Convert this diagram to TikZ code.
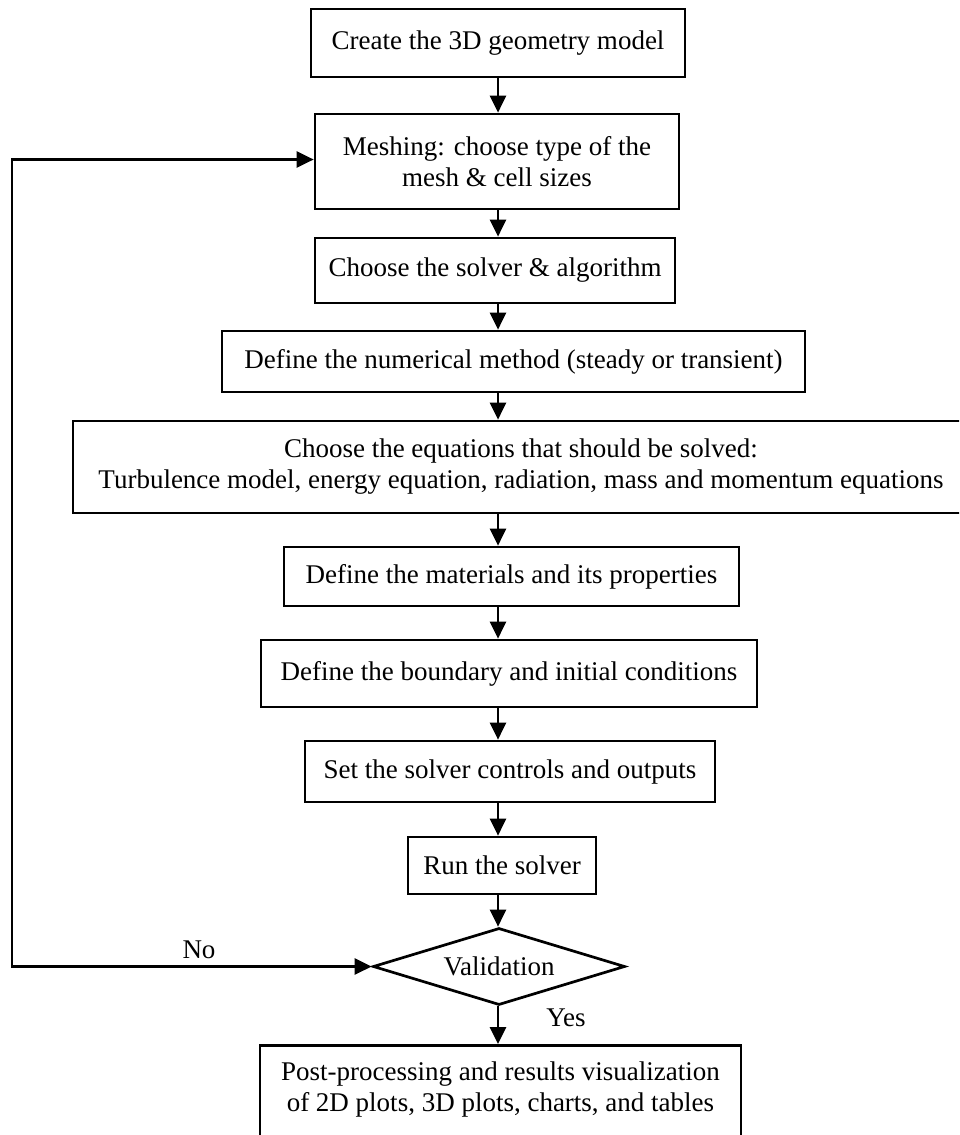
\documentclass[tikz,border=0pt]{standalone}
\usepackage{fontspec}
\setmainfont{Liberation Serif}
\usetikzlibrary{shapes.geometric,arrows.meta}
\begin{document}
\begin{tikzpicture}[x=1pt,y=-1pt,
  lw/.style={line width=2.7pt},
  box/.style={draw, lw, rectangle, inner sep=0pt, align=center, font=\fontsize{27}{31}\selectfont},
  txt/.style={inner sep=0pt, align=center, font=\fontsize{27}{31}\selectfont},
  dec/.style={draw, lw, diamond, inner sep=0pt, aspect=3.27, minimum width=252pt, minimum height=77pt, font=\fontsize{27}{31}\selectfont},
  arr/.style={lw, -{Triangle[length=17pt,width=16pt]}},
  fb/.style={lw, {Triangle[length=17pt,width=16pt]}-{Triangle[length=17pt,width=16pt]}},
  lbl/.style={inner sep=0pt, font=\fontsize{27}{31}\selectfont}]
\useasboundingbox (0,0) rectangle (959,1135);
\fill[white] (0,0) rectangle (959,1135);
\clip (0,0) rectangle (959,1135);

\coordinate (col) at (498,0);
\coordinate (fbx) at (12,0);

\node[box, minimum width=374pt, minimum height=68pt] (b1) at (498,43) {Create the 3D geometry model};
\node[box, minimum width=364pt, minimum height=95pt] (b2) at (497,161.5) {Meshing: choose type of the\\mesh \& cell sizes};
\node[box, minimum width=360pt, minimum height=65pt] (b3) at (495,270.5) {Choose the solver \& algorithm};
\node[box, minimum width=583pt, minimum height=61pt] (b4) at (513.5,361.5) {Define the numerical method (steady or transient)};
\node[box, minimum width=896pt, minimum height=92pt] (b5) at (521,467) {Choose the equations that should be solved:\\Turbulence model, energy equation, radiation, mass and momentum equations};
\node[box, minimum width=455pt, minimum height=59pt] (b6) at (511.5,576.5) {Define the materials and its properties};
\node[box, minimum width=496pt, minimum height=67pt] (b7) at (509,673.5) {Define the boundary and initial conditions};
\node[box, minimum width=410pt, minimum height=61pt] (b8) at (510,771.5) {Set the solver controls and outputs};
\node[box, minimum width=188pt, minimum height=57pt] (b9) at (502,865.5) {Run the solver};
\node[dec] (val) at (499,966.5) {Validation};
\node[box, anchor=north, minimum width=481pt, minimum height=110pt] (post) at (500.5,1044) {};
\node[txt] (posttext) at (500.5,1089) {Post-processing and results visualization\\of 2D plots, 3D plots, charts, and tables};

\node[lbl] (no) at (199,950) {No};
\node[lbl] (yes) at (566,1018) {Yes};

\draw[arr] (b1.south -| col) -- (b2.north -| col);
\draw[arr] (b2.south -| col) -- (b3.north -| col);
\draw[arr] (b3.south -| col) -- (b4.north -| col);
\draw[arr] (b4.south -| col) -- (b5.north -| col);
\draw[arr] (b5.south -| col) -- (b6.north -| col);
\draw[arr] (b6.south -| col) -- (b7.north -| col);
\draw[arr] (b7.south -| col) -- (b8.north -| col);
\draw[arr] (b8.south -| col) -- (b9.north -| col);
\draw[arr] (b9.south -| col) -- (val.north -| col);
\draw[arr] (val.south -| col) -- (post.north -| col);

\draw[fb, line join=miter] (val.west) -- (val.west -| fbx) -- ([yshift=2pt]b2.west -| fbx) -- ([yshift=2pt]b2.west);
\end{tikzpicture}
\end{document}
